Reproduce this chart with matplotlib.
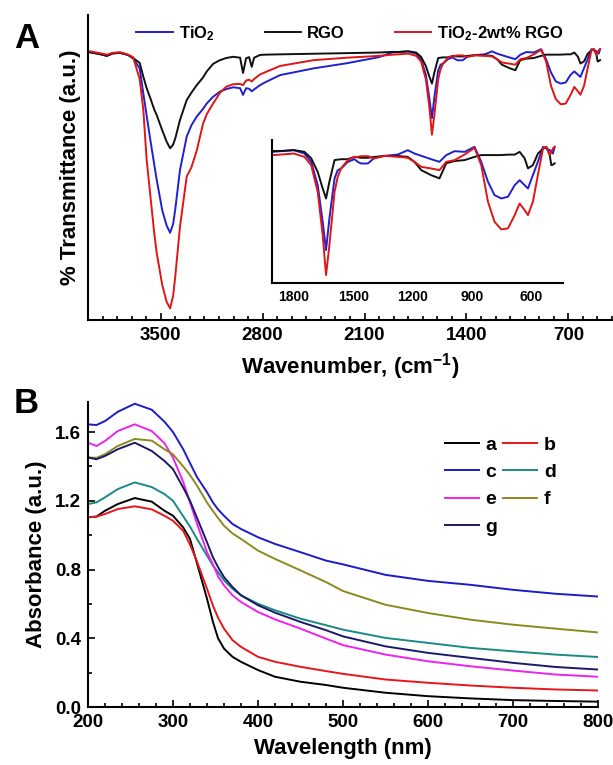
import numpy as np
import matplotlib
matplotlib.use("Agg")
import matplotlib.pyplot as plt
from matplotlib.ticker import MultipleLocator, FixedLocator

plt.rcParams['font.family'] = ['Liberation Sans', 'DejaVu Sans']
plt.rcParams['font.weight'] = 'bold'
plt.rcParams['mathtext.default'] = 'regular'

# ---- panel A: FTIR spectra (wavenumber in cm-1, transmittance in a.u.) ----
wavenumber = [4000, 3920, 3870, 3830, 3780, 3725, 3690, 3645, 3620, 3597,
              3570, 3545, 3528, 3490, 3460, 3436, 3415, 3400, 3368, 3322,
              3290, 3253, 3210, 3184, 3140, 3093, 3050, 3003, 2955, 2935,
              2914, 2893, 2875, 2859, 2818, 2780, 2680, 2450, 2220, 2000,
              1911, 1864, 1800, 1746, 1712, 1679, 1654, 1637, 1620, 1594,
              1578, 1561, 1527, 1493, 1477, 1460, 1426, 1392, 1342, 1274,
              1224, 1190, 1156, 1106, 1064, 1030, 988, 937, 887, 853,
              819, 786, 752, 718, 684, 659, 634, 617, 592, 567,
              541, 524, 507, 499, 491, 482]

t_rgo = [87.9, 87.2, 86.6, 87.4, 87.6, 86.9, 85.9, 84.3, 79.8, 76.0,
         72.5, 69.0, 67.2, 62.2, 58.5, 56.3, 57.5, 59.6, 65.6, 72.1,
         74.5, 77.0, 79.5, 81.5, 84.0, 85.2, 85.9, 86.3, 86.0, 81.0,
         85.8, 86.2, 83.0, 86.0, 86.9, 87.0, 87.1, 87.3, 87.5, 87.7,
         87.9, 87.9, 88.1, 87.7, 86.3, 83.3, 79.7, 77.5, 81.2, 85.9,
         86.0, 86.1, 86.1, 86.6, 86.5, 86.4, 86.4, 86.6, 86.8, 86.8,
         86.6, 85.5, 83.7, 82.6, 81.9, 85.2, 85.7, 85.9, 86.6, 87.0,
         87.0, 87.0, 87.0, 87.1, 87.1, 87.7, 86.3, 84.1, 84.8, 87.3,
         88.4, 88.8, 87.0, 84.8, 84.9, 85.2]

t_tio2 = [87.9, 87.2, 86.6, 87.4, 87.6, 86.9, 85.8, 82.5, 74.3, 67.0,
          58.5, 51.0, 46.0, 36.0, 31.0, 28.6, 31.5, 36.5, 49.2, 60.1,
          63.8, 66.7, 69.2, 71.0, 73.2, 74.9, 75.7, 76.3, 76.0, 73.8,
          76.0, 75.8, 75.0, 75.6, 77.0, 78.0, 80.3, 82.5, 84.2, 86.2,
          87.7, 87.85, 88.07, 87.34, 85.52, 80.42, 72.41, 66.21, 73.14, 81.88,
          83.7, 84.06, 85.52, 86.1, 85.52, 85.16, 85.16, 86.4, 86.83, 87.12,
          88.07, 87.34, 86.83, 86.1, 85.52, 86.98, 87.85, 87.71, 88.8, 85.52,
          81.15, 78.24, 77.51, 77.87, 80.42, 81.51, 80.42, 79.69, 82.61, 85.52,
          88.8, 88.44, 88.07, 87.71, 87.34, 88.8]

t_comp = [88.2, 87.5, 87.0, 87.6, 87.8, 87.0, 86.2, 79.0, 69.0, 52.5,
          40.0, 28.5, 22.0, 11.5, 6.0, 3.8, 8.0, 14.5, 30.6, 47.0,
          50.0, 55.5, 64.3, 67.5, 71.0, 74.5, 76.5, 77.3, 77.4, 77.0,
          78.5, 78.8, 78.2, 79.0, 80.5, 81.3, 83.3, 85.2, 86.0, 86.6,
          86.98, 87.12, 87.34, 86.61, 84.79, 78.96, 69.49, 60.75, 67.31, 78.96,
          82.24, 84.06, 85.89, 86.61, 86.61, 86.76, 86.76, 86.25, 86.83, 86.61,
          86.4, 85.52, 84.43, 84.06, 83.7, 85.52, 85.89, 87.12, 88.58, 84.79,
          76.78, 72.41, 70.73, 70.95, 73.86, 76.41, 74.96, 73.86, 76.78, 82.61,
          88.44, 88.8, 86.98, 87.71, 88.44, 88.8]

ftir_labels = ['TiO$_2$', 'RGO', 'TiO$_2$-2wt% RGO']
ftir_colors = ['#2020d0', '#111111', '#e01515']

# ---- panel B: UV-vis absorbance ----
wavelength = [200, 210, 220, 235, 255, 275, 290, 300, 312, 320, 328, 340, 347, 353,
              360, 370, 380, 400, 420, 450, 480, 500, 550, 600, 650, 700, 750, 800]
abs_a = [1.104, 1.108, 1.142, 1.181, 1.216, 1.195, 1.142, 1.113, 1.045, 0.978, 0.84, 0.63, 0.495, 0.40,
         0.34, 0.292, 0.263, 0.215, 0.176, 0.147, 0.128, 0.112, 0.083, 0.063, 0.05, 0.04, 0.035, 0.031]
abs_b = [1.104, 1.108, 1.123, 1.152, 1.168, 1.15, 1.113, 1.084, 1.025, 0.945, 0.85, 0.688, 0.59, 0.52,
         0.456, 0.389, 0.35, 0.292, 0.263, 0.234, 0.209, 0.193, 0.16, 0.141, 0.125, 0.112, 0.102, 0.096]
abs_c = [1.645, 1.641, 1.664, 1.718, 1.765, 1.73, 1.66, 1.60, 1.50, 1.42, 1.34, 1.25, 1.19, 1.15,
         1.113, 1.065, 1.036, 0.988, 0.949, 0.901, 0.852, 0.83, 0.769, 0.734, 0.711, 0.682, 0.659, 0.643]
abs_d = [1.181, 1.191, 1.22, 1.268, 1.307, 1.28, 1.239, 1.2, 1.11, 1.05, 0.98, 0.881, 0.823, 0.785,
         0.737, 0.688, 0.65, 0.601, 0.563, 0.514, 0.476, 0.45, 0.402, 0.373, 0.344, 0.324, 0.305, 0.291]
abs_e = [1.538, 1.519, 1.548, 1.606, 1.645, 1.606, 1.535, 1.451, 1.31, 1.191, 1.07, 0.901, 0.83, 0.76,
         0.708, 0.65, 0.611, 0.553, 0.51, 0.456, 0.398, 0.36, 0.305, 0.266, 0.237, 0.212, 0.189, 0.176]
abs_f = [1.452, 1.45, 1.471, 1.519, 1.56, 1.55, 1.50, 1.47, 1.40, 1.35, 1.29, 1.19, 1.14, 1.10,
         1.055, 1.01, 0.978, 0.91, 0.862, 0.795, 0.727, 0.675, 0.595, 0.547, 0.508, 0.479, 0.456, 0.434]
abs_g = [1.452, 1.442, 1.461, 1.5, 1.538, 1.49, 1.432, 1.384, 1.277, 1.2, 1.104, 0.959, 0.871, 0.814,
         0.756, 0.698, 0.65, 0.592, 0.549, 0.495, 0.447, 0.411, 0.353, 0.315, 0.286, 0.257, 0.233, 0.218]

uv_labels = ['a', 'b', 'c', 'd', 'e', 'f', 'g']
uv_colors = ['#000000', '#e8161b', '#1c1cc8', '#1a8a84', '#ee22ee', '#8a8a1e', '#1a1a66']

W, H = 613, 765
fig = plt.figure(figsize=(W / 100, H / 100), dpi=100)


def box(l, t, r, b):
    return [l / W, 1 - b / H, (r - l) / W, (b - t) / H]


def style(ax, size=13.5):
    for s in ['top', 'right']:
        ax.spines[s].set_visible(False)
    for s in ['left', 'bottom']:
        ax.spines[s].set_linewidth(1.5)
    ax.tick_params(which='both', direction='in', width=1.2, labelsize=size)
    ax.tick_params(which='major', length=5)
    ax.tick_params(which='minor', length=3)


# panel A
axA = fig.add_axes(box(88, 15, 612, 320))
for t, lab, col in zip([t_tio2, t_rgo, t_comp], ftir_labels, ftir_colors):
    axA.plot(wavenumber, t, color=col, lw=1.4, label=lab)
axA.set_xlim(4000, 400)
axA.set_ylim(0, 100)
style(axA)
axA.xaxis.set_major_locator(FixedLocator([3500, 2800, 2100, 1400, 700]))
axA.xaxis.set_minor_locator(MultipleLocator(100))
axA.set_yticks([])
axA.tick_params(axis='x', pad=5)
axA.set_xlabel('Wavenumber, (cm$^{-1}$)', fontsize=16, fontweight='bold', labelpad=5)
axA.set_ylabel('% Transmittance (a.u.)', fontsize=16, fontweight='bold', labelpad=5)
axA.legend(loc='center', bbox_to_anchor=(0.5, 0.94), ncol=3, frameon=False,
           fontsize=12, handlelength=2.2, handletextpad=0.35, columnspacing=3.0,
           borderpad=0)

# inset
axI = fig.add_axes(box(272, 140, 563, 283))
for t, col in zip([t_tio2, t_rgo, t_comp], ftir_colors):
    axI.plot(wavenumber, t, color=col, lw=1.4)
axI.set_xlim(1910, 440)
axI.set_ylim(59, 90.3)
style(axI, size=10)
axI.set_xticks([1800, 1500, 1200, 900, 600])
axI.set_yticks([])
axI.tick_params(axis='x', length=0, pad=5)
axI.patch.set_alpha(0)

# panel B
axB = fig.add_axes(box(88, 402, 598, 707))
series = [abs_a, abs_b, abs_c, abs_d, abs_e, abs_f, abs_g]
lines = []
for y, lab, col in zip(series, uv_labels, uv_colors):
    ln, = axB.plot(wavelength, y, color=col, lw=1.4, label=lab)
    lines.append(ln)
axB.set_xlim(200, 800)
axB.set_ylim(0, 1.775)
style(axB)
axB.xaxis.set_major_locator(MultipleLocator(100))
axB.xaxis.set_minor_locator(MultipleLocator(20))
axB.yaxis.set_major_locator(MultipleLocator(0.4))
axB.yaxis.set_minor_locator(MultipleLocator(0.2))
axB.yaxis.set_major_formatter(matplotlib.ticker.FormatStrFormatter('%.1f'))
axB.tick_params(axis='x', pad=5)
axB.tick_params(axis='y', pad=5)
axB.set_xlabel('Wavelength (nm)', fontsize=16, fontweight='bold', labelpad=5)
axB.set_ylabel('Absorbance (a.u.)', fontsize=16, fontweight='bold', labelpad=6)
order = [0, 2, 4, 6, 1, 3, 5]
axB.legend([lines[i] for i in order], [uv_labels[i] for i in order],
           loc='upper left', bbox_to_anchor=(0.68, 0.92), ncol=2, frameon=False,
           fontsize=14, handlelength=1.75, handletextpad=0.35, columnspacing=0.3,
           labelspacing=0.5, borderpad=0)

fig.text(14 / W, 1 - 48 / H, 'A', fontsize=25, fontweight='bold', va='baseline')
fig.text(14 / W, 1 - 413 / H, 'B', fontsize=25, fontweight='bold', va='baseline')

fig.savefig('out.png', dpi=100)
